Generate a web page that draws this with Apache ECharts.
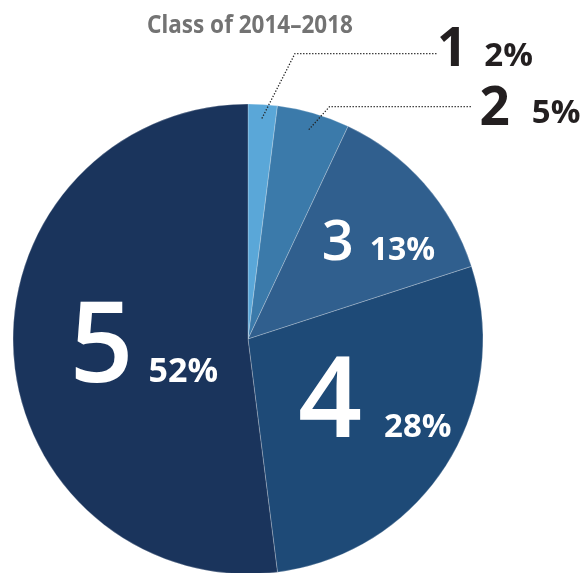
<!DOCTYPE html>
<html>
<head>
<meta charset="utf-8">
<script src="https://cdn.jsdelivr.net/npm/echarts@6/dist/echarts.min.js"></script>
<style>
html,body{margin:0;padding:0;background:#fff;}
#c{width:583px;height:573px;}
</style>
</head>
<body>
<div id="c"></div>
<script>
var titleText = 'Class of 2014\u20132018';
var categories = ['1', '2', '3', '4', '5'];
var percents = [2, 5, 13, 28, 52];
var colors = ['#5aa7d8', '#3b7aaa', '#305f8e', '#1e4a77', '#1a345c'];

var chart = echarts.init(document.getElementById('c'), null, {renderer: 'canvas'});

// label styling only (sizes, gaps, offsets)
var outsideStyle = {
  0: {length: 51, length2: 171, dist: 0, gap: 17, padTop: 0, padBottom: 5, padSmall: 0, inset: 14, bend: 29},
  1: {length: 7, length2: 156, dist: 8, gap: 22, padTop: 6, padBottom: 0, padSmall: 2, inset: 17, bend: 14}
};
var insideStyle = {
  2: {big: 56, small: 32, gap: 16, dx: 40, dy: -15},
  3: {big: 112, small: 33, gap: 22, dx: 25, dy: 2},
  4: {big: 112, small: 34, gap: 15, dx: 16, dy: 4}
};
var FONT = 'Open Sans';
var OUT_BIG = 53, OUT_SMALL = 33;
var leaderStyle = {stroke: '#222', lineWidth: 1.3, lineDash: [1.3, 1.7], fill: null};

var rich = {};
var data = categories.map(function (c, i) {
  var item = {name: c, value: percents[i], itemStyle: {color: colors[i]}};
  var o = outsideStyle[i], s = insideStyle[i];
  if (o) {
    rich['ob' + i] = {fontSize: OUT_BIG, fontWeight: 'bold', color: '#231f20', fontFamily: FONT, verticalAlign: 'bottom',
      padding: [o.padTop, 0, o.padBottom, 0]};
    rich['os' + i] = {fontSize: OUT_SMALL, fontWeight: 'bold', color: '#231f20', fontFamily: FONT, verticalAlign: 'bottom',
      padding: [o.padTop, 0, o.padBottom + o.padSmall + Math.round(0.22 * (OUT_BIG - OUT_SMALL)), o.gap]};
    item.label = {position: 'outside', distanceToLabelLine: o.dist,
      formatter: '{ob' + i + '|' + c + '}{os' + i + '|' + percents[i] + '%}'};
    // the pie's own guide line positions the label; the visible dotted leader is drawn from its points
    item.labelLine = {show: true, length: o.length, length2: o.length2, lineStyle: {opacity: 0}};
  } else {
    rich['ib' + i] = {fontSize: s.big, fontWeight: 600, color: '#fff', fontFamily: FONT, verticalAlign: 'bottom'};
    rich['is' + i] = {fontSize: s.small, fontWeight: 'bold', color: '#fff', fontFamily: FONT, verticalAlign: 'bottom',
      padding: [0, 0, Math.round(0.22 * (s.big - s.small)), s.gap]};
    item.label = {position: 'inside',
      formatter: '{ib' + i + '|' + c + '}{is' + i + '|' + percents[i] + '%}'};
    item.labelLine = {show: false};
  }
  return item;
});

var guidePoints = {};

chart.setOption({
  animation: false,
  graphic: [{type: 'text', x: 250, y: 26, scaleX: 0.9,
    style: {text: titleText, font: 'bold 25px "Noto Sans"', fill: '#737373', textAlign: 'center', textVerticalAlign: 'middle'}}],
  series: [{
    type: 'pie', center: [248, 339], radius: 235, startAngle: 90, clockwise: true,
    avoidLabelOverlap: false,
    itemStyle: {borderColor: 'rgba(255,255,255,0.3)', borderWidth: 0.8},
    emphasis: {disabled: true},
    label: {fontFamily: FONT, bleedMargin: 0, overflow: 'none', rich: rich},
    labelLayout: function (p) {
      var s = insideStyle[p.dataIndex];
      if (s) return {dx: s.dx, dy: s.dy};
      if (p.labelLinePoints) {
        guidePoints[p.dataIndex] = p.labelLinePoints.map(function (q) { return [q[0], q[1]]; });
      }
      return {};
    },
    data: data
  }]
});

// dotted leader lines, derived from the pie's computed guide-line points
var zr = chart.getZr();
Object.keys(outsideStyle).forEach(function (k) {
  var pts = guidePoints[k], o = outsideStyle[k];
  if (!pts || pts.length < 3) return;
  var ux = pts[1][0] - pts[0][0], uy = pts[1][1] - pts[0][1];
  var len = Math.sqrt(ux * ux + uy * uy) || 1;
  var start = [pts[0][0] - ux / len * o.inset, pts[0][1] - uy / len * o.inset];
  var mid = [pts[1][0] + o.bend, pts[1][1]];
  zr.add(new echarts.graphic.Polyline({
    z: 100, silent: true,
    shape: {points: [start, mid, pts[2]]},
    style: leaderStyle
  }));
});
</script>
</body>
</html>
